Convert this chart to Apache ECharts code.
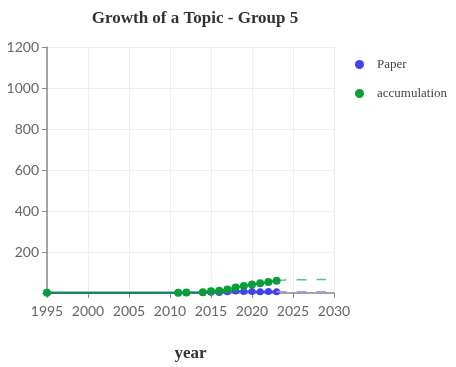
<!DOCTYPE html>
<html><head><meta charset="utf-8">
<script src="https://cdn.jsdelivr.net/npm/echarts@6/dist/echarts.min.js"></script>
<style>html,body{margin:0;padding:0;background:#fff}#c{width:456px;height:367px}</style>
</head><body><div id="c"></div>
<script>
const years = [1995, 2011, 2012, 2014, 2015, 2016, 2017, 2018, 2019, 2020, 2021, 2022, 2023];
const paper = [1, 1, 1, 2, 4, 3, 6, 10, 7, 7, 6, 7, 6];
const accumulation = [1, 1, 2, 4, 8, 11, 17, 27, 34, 41, 47, 54, 60];
const forecastYears = [2023, 2024, 2025, 2026, 2027, 2028, 2029];
const paperForecast = [6, 6, 6, 6, 6, 6, 6];
const accumForecast = [60, 63, 64, 65, 65, 66, 66];
const xTicks = [1995, 2030, 5];
const yTicks = [0, 1200, 200];

const blue = '#4040f5', green = '#0a9e38';
const pair = (xs, ys) => xs.map((x, i) => [x, ys[i]]);
const chart = echarts.init(document.getElementById('c'));
chart.setOption({
  animation: false,
  title: { text: 'Growth of a Topic - Group 5', left: 190, textAlign: 'center', top: 5,
    textStyle: { fontFamily: 'Liberation Serif', fontWeight: 'bold', fontSize: 17, color: '#333' } },
  legend: { orient: 'vertical', left: 350, top: 53, itemGap: 16, icon: 'circle', itemWidth: 9, itemHeight: 9,
    data: ['Paper', 'accumulation'],
    textStyle: { fontFamily: 'Liberation Serif', fontSize: 13, color: '#444', padding: [0, 0, 0, 8] } },
  grid: { left: 47, right: 122, top: 47, bottom: 74 },
  xAxis: { type: 'value', min: xTicks[0], max: xTicks[1], interval: xTicks[2],
    name: 'year', nameLocation: 'middle', nameGap: 52,
    nameTextStyle: { fontFamily: 'Liberation Serif', fontWeight: 'bold', fontSize: 17, color: '#333' },
    axisLine: { lineStyle: { color: '#888', width: 1.5 } },
    axisTick: { lineStyle: { color: '#888' }, length: 5 },
    axisLabel: { fontFamily: 'Lato', fontSize: 14, color: '#666', margin: 11, formatter: v => String(v) },
    splitLine: { show: true, lineStyle: { color: '#eee' } } },
  yAxis: { type: 'value', min: yTicks[0], max: yTicks[1], interval: yTicks[2],
    axisLine: { show: true, lineStyle: { color: '#888', width: 1.5 } },
    axisTick: { show: true, lineStyle: { color: '#888' }, length: 5 },
    axisLabel: { fontFamily: 'Lato', fontSize: 14, color: '#666', margin: 8,
      formatter: v => v === 0 ? '' : String(v) },
    splitLine: { show: true, lineStyle: { color: '#eee' } } },
  series: [
    { name: 'Paper', type: 'line', data: pair(years, paper), symbol: 'circle', symbolSize: 7,
      itemStyle: { color: blue }, lineStyle: { color: blue, width: 2 }, z: 2 },
    { name: 'accumulation', type: 'line', data: pair(years, accumulation), symbol: 'circle', symbolSize: 8,
      itemStyle: { color: green }, lineStyle: { color: '#148a4a', width: 2 }, z: 3 },
    { name: 'Paper', type: 'line', data: pair(forecastYears, paperForecast), symbol: 'none',
      lineStyle: { color: '#9a9af5', width: 1.5, type: [10, 10] } },
    { name: 'accumulation', type: 'line', data: pair(forecastYears, accumForecast), symbol: 'none',
      lineStyle: { color: '#5cc47c', width: 1.5, type: [10, 10] } }
  ]
});
</script></body></html>
